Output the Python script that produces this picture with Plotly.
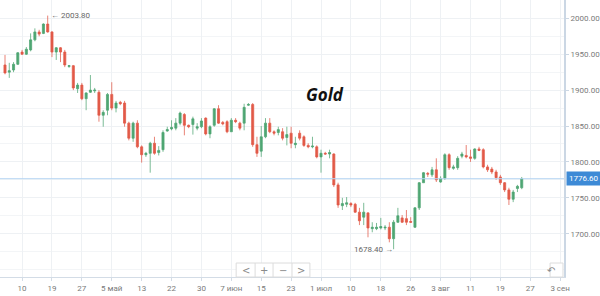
import plotly.graph_objects as go

# ---- data ----
idx = list(range(122))
open_ = [1935, 1925, 1928, 1936, 1953, 1950, 1956, 1970, 1981, 1979,
         1992, 1981, 1953, 1959, 1953, 1933, 1934, 1902, 1907, 1888,
         1897, 1899, 1897, 1865, 1872, 1894, 1875, 1883, 1882, 1854,
         1833, 1854, 1821, 1810, 1812, 1826, 1813, 1817, 1843, 1846,
         1847, 1854, 1866, 1851, 1852, 1847, 1849, 1861, 1839, 1851,
         1874, 1855, 1856, 1842, 1858, 1854, 1854, 1879, 1880, 1824,
         1815, 1835, 1854, 1842, 1841, 1842, 1834, 1840, 1824, 1840,
         1835, 1823, 1821, 1821, 1807, 1812, 1811, 1811, 1768, 1739,
         1741, 1742, 1741, 1730, 1723, 1729, 1707, 1707, 1708, 1708,
         1709, 1693, 1716, 1722, 1721, 1717, 1709, 1736, 1771, 1784,
         1782, 1789, 1772, 1777, 1810, 1791, 1792, 1808, 1809, 1807,
         1805, 1818, 1817, 1793, 1790, 1786, 1779, 1771, 1761, 1748,
         1763, 1764]
high = [1949, 1938, 1939, 1953, 1956, 1960, 1979, 1986, 1984, 1993,
        2003.8, 1982, 1960, 1960, 1956, 1935, 1935, 1910, 1910, 1897,
        1921, 1903, 1900, 1872, 1896, 1911, 1885, 1885, 1885, 1856,
        1856, 1858, 1823, 1814, 1828, 1835, 1822, 1844, 1849, 1858,
        1861, 1870, 1868, 1852, 1863, 1854, 1861, 1862, 1851, 1875,
        1879, 1857, 1858, 1861, 1861, 1856, 1881, 1882, 1882, 1835,
        1850, 1861, 1861, 1844, 1849, 1847, 1849, 1849, 1835, 1844,
        1837, 1826, 1835, 1823, 1817, 1814, 1817, 1812, 1771, 1750,
        1751, 1744, 1743, 1736, 1743, 1730, 1716, 1715, 1722, 1712,
        1716, 1719, 1736, 1726, 1733, 1723, 1737, 1772, 1786, 1786,
        1793, 1805, 1780, 1812, 1812, 1796, 1808, 1814, 1823.5, 1817,
        1819, 1821, 1819, 1796, 1793, 1789, 1782, 1772, 1764, 1761,
        1768, 1779]
low = [1922, 1917, 1925, 1935, 1949, 1949, 1954, 1968, 1975, 1978,
       1980, 1946, 1942, 1939, 1932, 1931, 1900, 1896, 1886, 1872,
       1896, 1896, 1856, 1849, 1865, 1872, 1869, 1879, 1849, 1830,
       1828, 1819, 1799, 1807, 1785, 1810, 1809, 1814, 1842, 1844,
       1844, 1851, 1837, 1847, 1838, 1844, 1847, 1837, 1833, 1849,
       1853, 1851, 1840, 1842, 1854, 1844, 1844, 1878, 1821, 1807,
       1807, 1833, 1840, 1837, 1837, 1830, 1823, 1819, 1819, 1830,
       1821, 1819, 1819, 1805, 1785, 1810, 1805, 1765, 1736, 1733,
       1737, 1737, 1729, 1712, 1712, 1695, 1702, 1705, 1706, 1705,
       1688, 1678.4, 1715, 1715, 1712, 1715, 1708, 1733, 1771, 1779,
       1779, 1772, 1771, 1775, 1789, 1789, 1789, 1805, 1805, 1800,
       1803, 1815, 1791, 1786, 1783, 1775, 1768, 1758, 1740, 1744,
       1758, 1762]
close = [1924, 1927, 1936, 1952, 1950, 1957, 1970, 1981, 1978, 1992,
         1981, 1953, 1959, 1953, 1935, 1934, 1903, 1907, 1888, 1896,
         1900, 1900, 1865, 1869, 1894, 1875, 1882, 1881, 1854, 1833,
         1854, 1821, 1810, 1812, 1826, 1812, 1816, 1841, 1845, 1848,
         1854, 1868, 1851, 1849, 1860, 1849, 1857, 1839, 1849, 1874,
         1854, 1853, 1842, 1858, 1856, 1847, 1876, 1880, 1824, 1812,
         1835, 1854, 1842, 1840, 1845, 1833, 1838, 1826, 1826, 1833,
         1823, 1821, 1822, 1807, 1812, 1811, 1813, 1768, 1740, 1742,
         1743, 1740, 1730, 1718, 1730, 1708, 1709, 1709, 1710, 1709,
         1693, 1716, 1725, 1716, 1716, 1716, 1736, 1771, 1785, 1783,
         1789, 1775, 1777, 1810, 1792, 1793, 1805, 1811, 1807, 1805,
         1818, 1816, 1793, 1789, 1786, 1778, 1771, 1761, 1748, 1758,
         1766, 1776.6]

tick_pos = [4, 11, 18, 25, 32, 39, 46, 53, 60, 67, 74, 81, 88, 95, 102, 109, 116, 123, 130]
tick_text = ["10", "19", "27", "5 май", "13", "22", "30", "7 июн", "15", "23",
             "1 июл", "10", "18", "26", "3 авг", "11", "19", "27", "3 сен"]
y_ticks = [1700, 1750, 1800, 1850, 1900, 1950, 2000]

title_text = "Gold"
last_price = 1776.6
max_idx, max_price = 10, 2003.8
min_idx, min_price = 91, 1678.4

GREEN = "#4fa673"
RED = "#e25a48"

fig = go.Figure(go.Candlestick(
    x=idx, open=open_, high=high, low=low, close=close,
    increasing=dict(fillcolor=GREEN, line=dict(color="rgba(79,166,115,0.75)", width=1)),
    decreasing=dict(fillcolor=RED, line=dict(color="rgba(226,90,72,0.75)", width=1)),
    showlegend=False, hoverinfo="skip",
))

font_fam = "Roboto, 'Open Sans', sans-serif"
tick_font = dict(family=font_fam, size=8, color="#7a7a7a")

fig.update_layout(
    width=600, height=296, autosize=False,
    margin=dict(l=0, r=34, t=0, b=19),
    paper_bgcolor="white", plot_bgcolor="white",
    xaxis=dict(
        range=[-1.17, 130.9], rangeslider=dict(visible=False),
        tickmode="array", tickvals=tick_pos, ticktext=tick_text,
        showgrid=True, gridcolor="#eef1f4", gridwidth=1,
        showline=True, linecolor="#d3dce6", linewidth=1,
        ticks="outside", ticklen=3, tickcolor="#d3dce6",
        tickfont=tick_font, zeroline=False, fixedrange=True,
    ),
    yaxis=dict(
        range=[1639.7, 2025.5], side="right",
        tickmode="array", tickvals=y_ticks, tickformat=".2f",
        showgrid=True, gridcolor="#eef1f4", gridwidth=1,
        minor=dict(dtick=25, tick0=1625, showgrid=True, gridcolor="#f3f5f7"),
        showline=True, linecolor="#cbd7e4", linewidth=2,
        ticks="outside", ticklen=3, tickcolor="#cbd7e4",
        tickfont=tick_font, zeroline=False, fixedrange=True,
    ),
)

# current price line + label
fig.add_shape(type="line", xref="paper", x0=0, x1=1, yref="y", y0=last_price, y1=last_price,
              line=dict(color="#b5d5f3", width=1))
fig.add_annotation(xref="paper", x=1, xanchor="left", xshift=2, yref="y", y=last_price,
                   text=f"{last_price:.2f}", showarrow=False, bgcolor="#3d8ad6",
                   font=dict(family=font_fam, size=8, color="white"), borderpad=2)

# max / min markers
fig.add_annotation(x=max_idx, y=max_price, xanchor="left", yanchor="middle", xshift=1, yshift=0,
                   text=f"← {max_price:.2f}", showarrow=False,
                   font=dict(family=font_fam, size=8, color="#666"))
fig.add_annotation(x=min_idx, y=min_price, xanchor="right", yanchor="middle", xshift=1, yshift=0,
                   text=f"{min_price:.2f} →", showarrow=False,
                   font=dict(family=font_fam, size=8, color="#666"))

# title
fig.add_annotation(xref="paper", yref="paper", x=0.576, y=0.708, text=f"<b><i>{title_text}</i></b>",
                   showarrow=False, font=dict(family="'Open Sans', sans-serif", size=17, color="#111"))

# navigation buttons (decoration)
nav_x0, nav_x1 = 0.4187, 0.5495
fig.add_shape(type="rect", xref="paper", yref="paper", x0=nav_x0, x1=nav_x1, y0=0.0, y1=0.0505,
              line=dict(color="#dcdcdc", width=1), fillcolor="white", layer="above")
for dx in [0.4523, 0.4841, 0.5177]:
    fig.add_shape(type="line", xref="paper", yref="paper", x0=dx, x1=dx, y0=0.0, y1=0.0505,
                  line=dict(color="#dcdcdc", width=1), layer="above")
for cx, sym in zip([0.4355, 0.4682, 0.5009, 0.5336], ["<", "+", "−", ">"]):
    fig.add_annotation(xref="paper", yref="paper", x=cx, y=0.025, yanchor="middle", text=sym,
                       showarrow=False, font=dict(family="DejaVu Sans", size=10, color="#8a8a8a"))
fig.add_shape(type="rect", xref="paper", yref="paper", x0=0.9753, x1=0.9982, y0=0.0, y1=0.0505,
              line=dict(color="#dcdcdc", width=1), fillcolor="white", layer="above")
fig.add_annotation(xref="paper", yref="paper", x=0.9868, y=0.025, yanchor="middle", text="↶",
                   showarrow=False, font=dict(family="DejaVu Sans", size=10, color="#8a8a8a"))

fig.write_html("out.html")
